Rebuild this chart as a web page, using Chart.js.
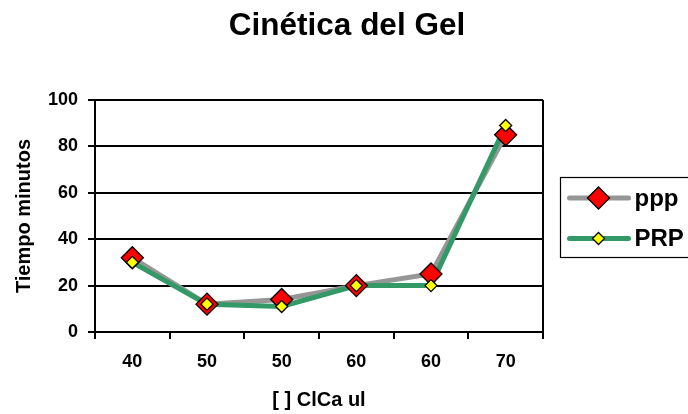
<!DOCTYPE html>
<html>
<head>
<meta charset="utf-8">
<title>Cinética del Gel</title>
<script src="https://cdn.jsdelivr.net/npm/chart.js@4/dist/chart.umd.min.js"></script>
<style>
  html, body { margin: 0; padding: 0; background: #ffffff; }
  #wrap { width: 688px; height: 414px; }
</style>
</head>
<body>
<div id="wrap"><canvas id="chart" width="688" height="414"></canvas></div>
<script>
// Concentración de ClCa (µl) para cada ensayo
const categories = ['40', '50', '50', '60', '60', '70'];
// Tiempo de gelificación en minutos
const pppValues = [32, 12, 14, 20, 25, 85];
const prpValues = [30, 12, 11, 20, 20, 89];
const yTicks = [0, 20, 40, 60, 80, 100];

const FONT = "'Liberation Sans', Arial, Helvetica, sans-serif";

const series = [
  { label: 'ppp', data: pppValues, line: '#969696', fill: '#FF0000', radius: 11 },
  { label: 'PRP', data: prpValues, line: '#339966', fill: '#FFFF00', radius: 6 }
];

// Lines are drawn first, markers of every series on top of all lines
const datasets = [];
series.forEach((s, i) => {
  datasets.push({
    label: s.label,
    data: s.data,
    borderColor: s.line,
    borderWidth: 5,
    pointRadius: 0,
    pointHoverRadius: 0,
    tension: 0,
    fill: false,
    order: 10 - i
  });
});
series.forEach((s, i) => {
  datasets.push({
    label: s.label + ' marcador',
    data: s.data,
    showLine: false,
    pointStyle: 'rectRot',
    pointRadius: s.radius,
    pointHoverRadius: s.radius,
    pointBackgroundColor: s.fill,
    pointBorderColor: '#000000',
    pointBorderWidth: 1.3,
    order: 5 - i
  });
});

function diamond(ctx, x, y, r, fill) {
  ctx.beginPath();
  ctx.moveTo(x - r, y);
  ctx.lineTo(x, y - r);
  ctx.lineTo(x + r, y);
  ctx.lineTo(x, y + r);
  ctx.closePath();
  ctx.fillStyle = fill;
  ctx.fill();
  ctx.lineWidth = 1.3;
  ctx.strokeStyle = '#000000';
  ctx.stroke();
}

// Right edge of the plot frame
const frame = {
  id: 'frame',
  beforeDatasetsDraw(chart) {
    const a = chart.chartArea;
    const ctx = chart.ctx;
    ctx.save();
    ctx.strokeStyle = '#000000';
    ctx.lineWidth = 2;
    ctx.beginPath();
    ctx.moveTo(a.right, a.top);
    ctx.lineTo(a.right, a.bottom);
    ctx.stroke();
    ctx.restore();
  }
};

// Legend box with line + marker samples
const lineLegend = {
  id: 'lineLegend',
  afterDraw(chart) {
    const ctx = chart.ctx;
    const a = chart.chartArea;
    const boxX = a.right + 17.5;
    const boxY = 177.5;
    const rowH = 40.5;
    ctx.save();
    ctx.fillStyle = '#ffffff';
    ctx.fillRect(boxX, boxY, 150, 80);
    ctx.strokeStyle = '#000000';
    ctx.lineWidth = 1.2;
    ctx.strokeRect(boxX, boxY, 150, 80);
    series.forEach((s, i) => {
      const y = boxY + 20.5 + i * rowH;
      ctx.strokeStyle = s.line;
      ctx.lineWidth = 5;
      ctx.lineCap = 'round';
      ctx.beginPath();
      ctx.moveTo(boxX + 9, y);
      ctx.lineTo(boxX + 68, y);
      ctx.stroke();
      diamond(ctx, boxX + 38, y, s.radius, s.fill);
      ctx.fillStyle = '#000000';
      ctx.font = 'bold 24px ' + FONT;
      ctx.textAlign = 'left';
      ctx.textBaseline = 'middle';
      ctx.fillText(s.label, boxX + 74, y + 1);
    });
    ctx.restore();
  }
};

new Chart(document.getElementById('chart'), {
  type: 'line',
  data: { labels: categories, datasets: datasets },
  options: {
    responsive: false,
    animation: false,
    events: [],
    layout: { padding: { left: 6, right: 0, top: 0, bottom: 2 } },
    plugins: {
      legend: { display: false },
      tooltip: { enabled: false },
      title: {
        display: true,
        text: 'Cinética del Gel',
        color: '#000000',
        font: { family: FONT, size: 31.5, weight: 'bold' },
        padding: { top: 7.6, bottom: 54.6 }
      }
    },
    scales: {
      x: {
        type: 'category',
        offset: true,
        grid: {
          offset: true,
          drawOnChartArea: false,
          drawTicks: true,
          tickLength: 7,
          color: '#000000',
          lineWidth: 2
        },
        border: { display: true, color: '#000000', width: 2 },
        ticks: {
          color: '#000000',
          padding: 12,
          maxRotation: 0,
          font: { family: FONT, size: 18, weight: 'bold' }
        },
        title: {
          display: true,
          text: '[ ] ClCa ul',
          color: '#000000',
          font: { family: FONT, size: 20, weight: 'bold' },
          padding: { top: 3.4, bottom: 0 }
        }
      },
      y: {
        min: 0,
        max: 100,
        afterBuildTicks(scale) {
          scale.ticks = yTicks.map(v => ({ value: v }));
        },
        afterFit(scale) { scale.width = 89; },
        grid: {
          color: '#000000',
          lineWidth: 2,
          drawTicks: true,
          tickLength: 7
        },
        border: { display: true, color: '#000000', width: 2 },
        ticks: {
          color: '#000000',
          padding: 10,
          font: { family: FONT, size: 18, weight: 'bold' }
        },
        title: {
          display: true,
          text: 'Tiempo minutos',
          color: '#000000',
          font: { family: FONT, size: 20, weight: 'bold' },
          padding: { top: 6, bottom: 2 }
        }
      },
      // Empty right-hand scale that keeps room for the legend box
      legendSpace: {
        type: 'linear',
        position: 'right',
        min: 0,
        max: 100,
        afterFit(scale) { scale.width = 145; },
        grid: { display: false, drawTicks: false },
        border: { display: false },
        ticks: { display: false }
      }
    }
  },
  plugins: [frame, lineLegend]
});
</script>
</body>
</html>
